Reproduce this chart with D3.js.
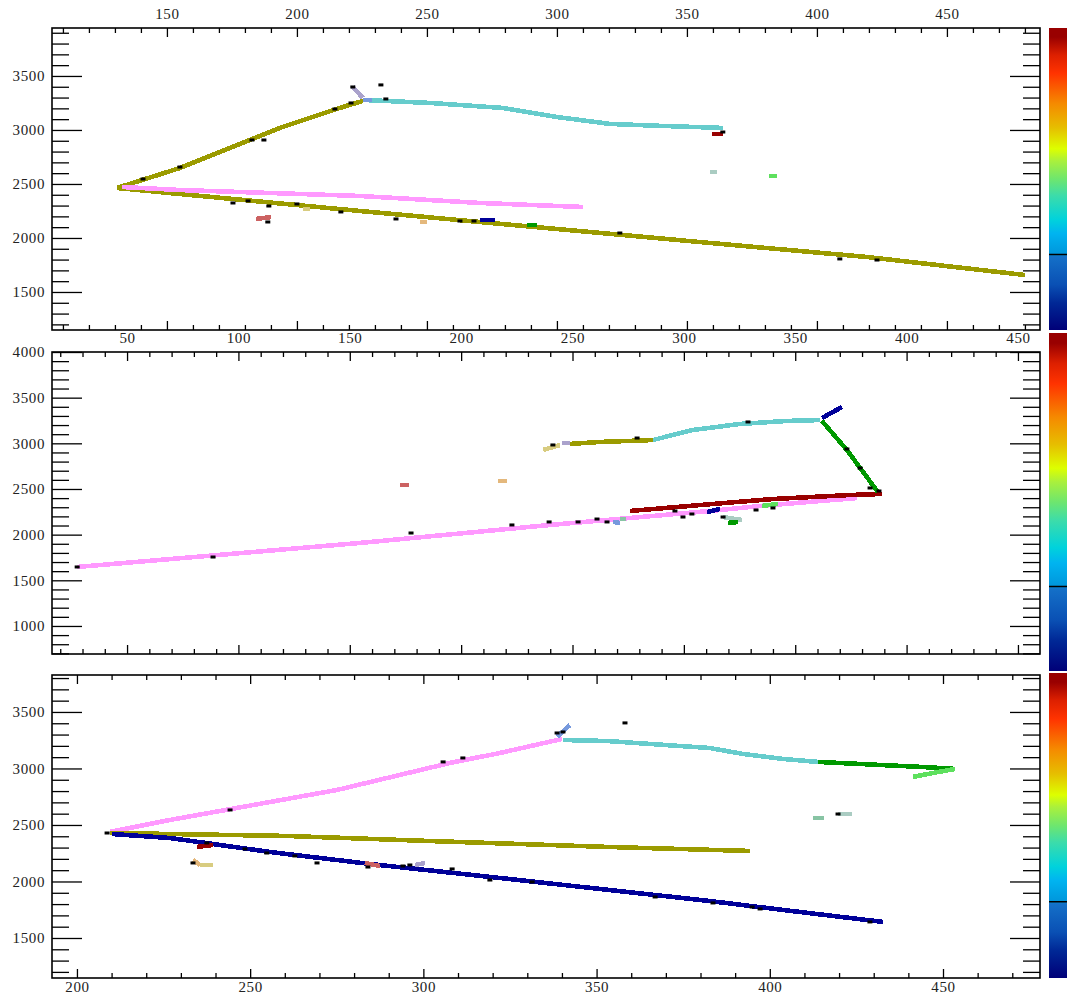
<!DOCTYPE html>
<html>
<head>
<meta charset="utf-8">
<script src="https://cdn.jsdelivr.net/npm/d3@7"></script>
<style>
  body { margin: 0; background: #fff; }
  svg { display: block; }
</style>
</head>
<body>
<svg id="display" width="1067" height="994"></svg>
<script>
// colour of each cluster kind
let kindColours = {
  olive: "#9b9b00", pink: "#ff99ff", cyan: "#66cccc", navy: "#000099",
  darkred: "#990000", green: "#009900", lightgreen: "#5ee05e", salmon: "#cc6262",
  tan: "#e4b87c", khaki: "#d8cc80", lavender: "#aaa2cc", slate: "#7799dd",
  grayteal: "#aaccc2", tealgreen: "#88c4a4"
};

// plane 0 (top): [wire, tick] vertices
let plane0Tracks = [
  {kind: "olive", pts: [[130.8, 2463], [155, 2648], [193.5, 3019], [216.5, 3204], [225.4, 3269]]},
  {kind: "olive", pts: [[130.8, 2463], [155, 2407], [224.2, 2250], [270.4, 2148], [358.8, 1954], [419.2, 1824], [480, 1657]]},
  {kind: "pink", pts: [[132.7, 2472], [155, 2444], [224.2, 2389], [270.4, 2324], [310, 2287]]},
  {kind: "cyan", pts: [[225.4, 3278], [251.2, 3250], [279.2, 3204], [300, 3120], [320.4, 3056], [340.8, 3037], [363.8, 3019]]},
  {kind: "lavender", pts: [[221.5, 3398], [225.4, 3296]]},
  {kind: "slate", pts: [[225.4, 3278], [228.8, 3278]]},
  {kind: "darkred", pts: [[359.6, 2963], [363.8, 2963]]},
  {kind: "grayteal", pts: [[358.8, 2611], [361.5, 2611]]},
  {kind: "lightgreen", pts: [[381.5, 2574], [384.6, 2574]]},
  {kind: "salmon", pts: [[184.2, 2176], [190, 2194]]},
  {kind: "tan", pts: [[247.3, 2148], [250, 2148]]},
  {kind: "khaki", pts: [[202.3, 2269], [205, 2269]]},
  {kind: "navy", pts: [[270.4, 2167], [276.2, 2167]]},
  {kind: "green", pts: [[288.5, 2120], [292.3, 2120]]}
];
let plane0Hits = [
  [140.8, 2546], [155, 2657], [182.7, 2907], [187.3, 2907], [214.6, 3194], [220.8, 3250],
  [221.5, 3398], [232.3, 3417], [234.2, 3287], [175.4, 2324], [181.2, 2343], [189.2, 2296],
  [200, 2315], [188.8, 2148], [216.9, 2241], [238.1, 2176], [262.7, 2157], [268.1, 2157],
  [324.2, 2046], [363.8, 2981], [408.8, 1806], [423.1, 1796]
];
let plane0WireTicks = [150, 200, 250, 300, 350, 400, 450];
let plane0TimeTicks = [1500, 2000, 2500, 3000, 3500];

// plane 1 (middle)
let plane1Tracks = [
  {kind: "pink", pts: [[27.6, 1646], [154.6, 1909], [239.9, 2106], [311.7, 2259], [334.2, 2314], [377.7, 2401]]},
  {kind: "darkred", pts: [[275.8, 2259], [313.1, 2336], [340, 2390], [374.6, 2434], [388.9, 2445]]},
  {kind: "khaki", pts: [[236.8, 2927], [244.4, 2982]]},
  {kind: "lavender", pts: [[245.3, 3004], [248.9, 3004]]},
  {kind: "olive", pts: [[248.9, 2993], [262.3, 3015], [286.1, 3036]]},
  {kind: "cyan", pts: [[286.1, 3036], [304.1, 3146], [325.2, 3212], [346.3, 3245], [361.1, 3255]]},
  {kind: "navy", pts: [[362, 3277], [371, 3398]]},
  {kind: "green", pts: [[362, 3245], [373.2, 2927], [387.1, 2467]]},
  {kind: "salmon", pts: [[172.6, 2544], [176.6, 2544]]},
  {kind: "tan", pts: [[216.6, 2588], [220.6, 2588]]},
  {kind: "slate", pts: [[268.2, 2139], [271.3, 2128]]},
  {kind: "tealgreen", pts: [[271.3, 2172], [274, 2172]]},
  {kind: "navy", pts: [[310.4, 2248], [316.2, 2281]]},
  {kind: "lightgreen", pts: [[335.1, 2314], [342.3, 2336]]},
  {kind: "grayteal", pts: [[317.6, 2193], [326.1, 2160]]},
  {kind: "green", pts: [[319.8, 2128], [324.3, 2139]]}
];
let plane1Hits = [
  [27.6, 1646], [88.6, 1755], [177.5, 2018], [222.8, 2106], [239.5, 2139], [252.5, 2139],
  [261, 2171], [265.5, 2139], [241.2, 2982], [279, 3058], [296, 2259], [299.6, 2193],
  [303.6, 2226], [328.8, 3234], [373.2, 2938], [379.1, 2730], [383.6, 2511], [387.6, 2478],
  [317.6, 2193], [332.4, 2270], [340, 2292]
];
let plane1WireTicks = [50, 100, 150, 200, 250, 300, 350, 400, 450];
let plane1TimeTicks = [1000, 1500, 2000, 2500, 3000, 3500, 4000];

// plane 2 (bottom)
let plane2Tracks = [
  {kind: "pink", pts: [[209.5, 2438], [226.8, 2544], [275.1, 2810], [307.7, 3049], [322.1, 3137], [340, 3261]]},
  {kind: "cyan", pts: [[340.3, 3252], [353, 3243], [365.4, 3217], [382.7, 3181], [392.3, 3128], [403.8, 3084], [413.9, 3058]]},
  {kind: "green", pts: [[413.9, 3058], [431.8, 3031], [444.2, 3013], [453.5, 2996]]},
  {kind: "lightgreen", pts: [[453.5, 2996], [447.1, 2960], [441.3, 2925]]},
  {kind: "olive", pts: [[209.5, 2429], [260.6, 2403], [301.9, 2358], [353.9, 2305], [394.3, 2270]]},
  {kind: "navy", pts: [[210.1, 2420], [226.8, 2385], [255.7, 2261], [284.6, 2155], [322.1, 2031], [382.7, 1827], [408.7, 1730], [432.7, 1642]]},
  {kind: "slate", pts: [[338.6, 3279], [342.3, 3385]]},
  {kind: "darkred", pts: [[234.6, 2305], [239.3, 2323]]},
  {kind: "tan", pts: [[233.5, 2190], [235.5, 2146]]},
  {kind: "khaki", pts: [[235.5, 2146], [239.3, 2146]]},
  {kind: "salmon", pts: [[283.1, 2164], [287.5, 2137]]},
  {kind: "lavender", pts: [[297.6, 2146], [300.5, 2164]]},
  {kind: "tealgreen", pts: [[412.5, 2562], [415.6, 2562]]},
  {kind: "grayteal", pts: [[419.7, 2597], [423.7, 2597]]}
];
let plane2Hits = [
  [208.7, 2429], [233.5, 2164], [237.5, 2341], [244.2, 2633], [248.5, 2288], [254.8, 2252],
  [262.9, 2226], [269.3, 2164], [284, 2128], [294.1, 2137], [296.1, 2146], [305.7, 3058],
  [311.4, 3093], [308.3, 2111], [319.2, 2013], [331.4, 1996], [338.6, 3314], [340.3, 3323],
  [358.2, 3403], [366.9, 1863], [383.6, 1810], [394.9, 1774], [397.2, 1757], [419.7, 2597],
  [428.9, 1642]
];
let plane2WireTicks = [200, 250, 300, 350, 400, 450];
let plane2TimeTicks = [1500, 2000, 2500, 3000, 3500];

// rainbow palette of the colour bar, [fraction, colour], and the marker level on it
let paletteStops = [
  [0, "#000078"], [0.09, "#002896"], [0.15, "#0a50b4"], [0.243, "#1470c8"],
  [0.251, "#0096dc"], [0.32, "#00b4f0"], [0.365, "#00d2dc"], [0.445, "#3cdcaa"],
  [0.5, "#6ee66e"], [0.56, "#aaf03c"], [0.6, "#ddff00"], [0.67, "#e6be00"],
  [0.75, "#f58a00"], [0.85, "#ff3300"], [0.91, "#dd2000"], [0.97, "#990000"], [1, "#990000"]
];
let paletteMarker = 0.25;

let left = 52, right = 1040;
let panels = [
  {tracks: plane0Tracks, hits: plane0Hits, xTicks: plane0WireTicks, yTicks: plane0TimeTicks,
   xDomain: [105.8, 485.8], yDomain: [1148, 3944], top: 28, bottom: 330, labels: "top", bar: [28, 330]},
  {tracks: plane1Tracks, hits: plane1Hits, xTicks: plane1WireTicks, yTicks: plane1TimeTicks,
   xDomain: [16.3, 459.9], yDomain: [693, 4000], top: 352, bottom: 654, labels: "top", bar: [333, 671]},
  {tracks: plane2Tracks, hits: plane2Hits, xTicks: plane2WireTicks, yTicks: plane2TimeTicks,
   xDomain: [192.8, 478], yDomain: [1146, 3827], top: 675, bottom: 978, labels: "bottom", bar: [673, 978]}
];

let svg = d3.select("#display");
let defs = svg.append("defs");

let grad = defs.append("linearGradient")
  .attr("id", "palette")
  .attr("x1", 0).attr("y1", 1).attr("x2", 0).attr("y2", 0);
grad.selectAll("stop")
  .data(paletteStops)
  .join("stop")
  .attr("offset", function(d) { return d[0]; })
  .attr("stop-color", function(d) { return d[1]; });

function styleAxis(g) {
  g.attr("font-family", "Liberation Serif, Times New Roman, serif")
    .attr("font-size", 15)
    .attr("letter-spacing", 0.6);
  g.select(".domain").remove();
  g.selectAll(".tick line").style("stroke", "#000").style("stroke-width", 1.3);
  g.selectAll(".tick text").attr("fill", "#222");
}

panels.forEach(function(p, i) {
  let xScale = d3.scaleLinear().domain(p.xDomain).range([left, right]);
  let yScale = d3.scaleLinear().domain(p.yDomain).range([p.bottom, p.top]);

  defs.append("clipPath").attr("id", "clip" + i)
    .append("rect")
    .attr("x", left).attr("y", p.top)
    .attr("width", right - left).attr("height", p.bottom - p.top);

  let graph = svg.append("g").attr("clip-path", "url(#clip" + i + ")");

  let line = d3.line()
    .x(function(d) { return xScale(d[0]); })
    .y(function(d) { return yScale(d[1]); });

  graph.selectAll("path.track")
    .data(p.tracks)
    .join("path")
    .attr("class", "track")
    .attr("d", function(d) { return line(d.pts); })
    .style("fill", "none")
    .style("stroke", function(d) { return kindColours[d.kind]; })
    .style("stroke-width", 4.6)
    .style("shape-rendering", "crispEdges");

  graph.selectAll("rect.hit")
    .data(p.hits)
    .join("rect")
    .attr("class", "hit")
    .attr("x", function(d) { return xScale(d[0]) - 2.5; })
    .attr("y", function(d) { return yScale(d[1]) - 1.5; })
    .attr("width", 5)
    .attr("height", 3)
    .style("fill", "#000");

  // minor ticks every 10 wires / 100 ticks
  let xMinor = d3.range(Math.ceil(p.xDomain[0] / 10) * 10, p.xDomain[1], 10)
    .filter(function(v) { return v % 50 !== 0; });
  let yMinor = d3.range(Math.ceil(p.yDomain[0] / 100) * 100, p.yDomain[1], 100)
    .filter(function(v) { return v % 500 !== 0; });
  let xMajor = d3.range(Math.ceil(p.xDomain[0] / 50) * 50, p.xDomain[1], 50);
  let yMajor = d3.range(Math.ceil(p.yDomain[0] / 500) * 500, p.yDomain[1] + 1, 500);

  // top
  svg.append("g")
    .attr("transform", "translate(0," + p.top + ")")
    .call(d3.axisTop(xScale).tickValues(xMinor).tickSize(-5).tickFormat(""))
    .call(styleAxis);
  svg.append("g")
    .attr("transform", "translate(0," + p.top + ")")
    .call(d3.axisTop(xScale).tickValues(p.labels === "top" ? p.xTicks : xMajor).tickSize(-9).tickPadding(9)
      .tickFormat(p.labels === "top" ? d3.format("d") : ""))
    .call(styleAxis);

  // bottom
  svg.append("g")
    .attr("transform", "translate(0," + p.bottom + ")")
    .call(d3.axisBottom(xScale).tickValues(xMinor).tickSize(-5).tickFormat(""))
    .call(styleAxis);
  svg.append("g")
    .attr("transform", "translate(0," + p.bottom + ")")
    .call(d3.axisBottom(xScale).tickValues(p.labels === "bottom" ? p.xTicks : xMajor).tickSize(-9).tickPadding(3)
      .tickFormat(p.labels === "bottom" ? d3.format("d") : ""))
    .call(styleAxis);

  // left
  svg.append("g")
    .attr("transform", "translate(" + left + ",0)")
    .call(d3.axisLeft(yScale).tickValues(yMinor).tickSize(-17).tickFormat(""))
    .call(styleAxis);
  svg.append("g")
    .attr("transform", "translate(" + left + ",0)")
    .call(d3.axisLeft(yScale).tickValues(p.yTicks).tickSize(-30).tickPadding(7).tickFormat(d3.format("d")))
    .call(styleAxis);

  // right
  svg.append("g")
    .attr("transform", "translate(" + right + ",0)")
    .call(d3.axisRight(yScale).tickValues(yMinor).tickSize(-17).tickFormat(""))
    .call(styleAxis);
  svg.append("g")
    .attr("transform", "translate(" + right + ",0)")
    .call(d3.axisRight(yScale).tickValues(yMajor).tickSize(-30).tickFormat(""))
    .call(styleAxis);

  svg.append("rect")
    .attr("x", left).attr("y", p.top)
    .attr("width", right - left).attr("height", p.bottom - p.top)
    .style("fill", "none")
    .style("stroke", "#000")
    .style("stroke-width", 1.6);

  // colour bar
  let zScale = d3.scaleLinear().domain([0, 1]).range([p.bar[1], p.bar[0]]);
  svg.append("rect")
    .attr("x", 1049).attr("y", p.bar[0])
    .attr("width", 24).attr("height", p.bar[1] - p.bar[0])
    .style("fill", "url(#palette)");
  svg.append("line")
    .attr("x1", 1049).attr("x2", 1067)
    .attr("y1", zScale(paletteMarker)).attr("y2", zScale(paletteMarker))
    .style("stroke", "#000")
    .style("stroke-width", 1.5);
});
</script>
</body>
</html>
